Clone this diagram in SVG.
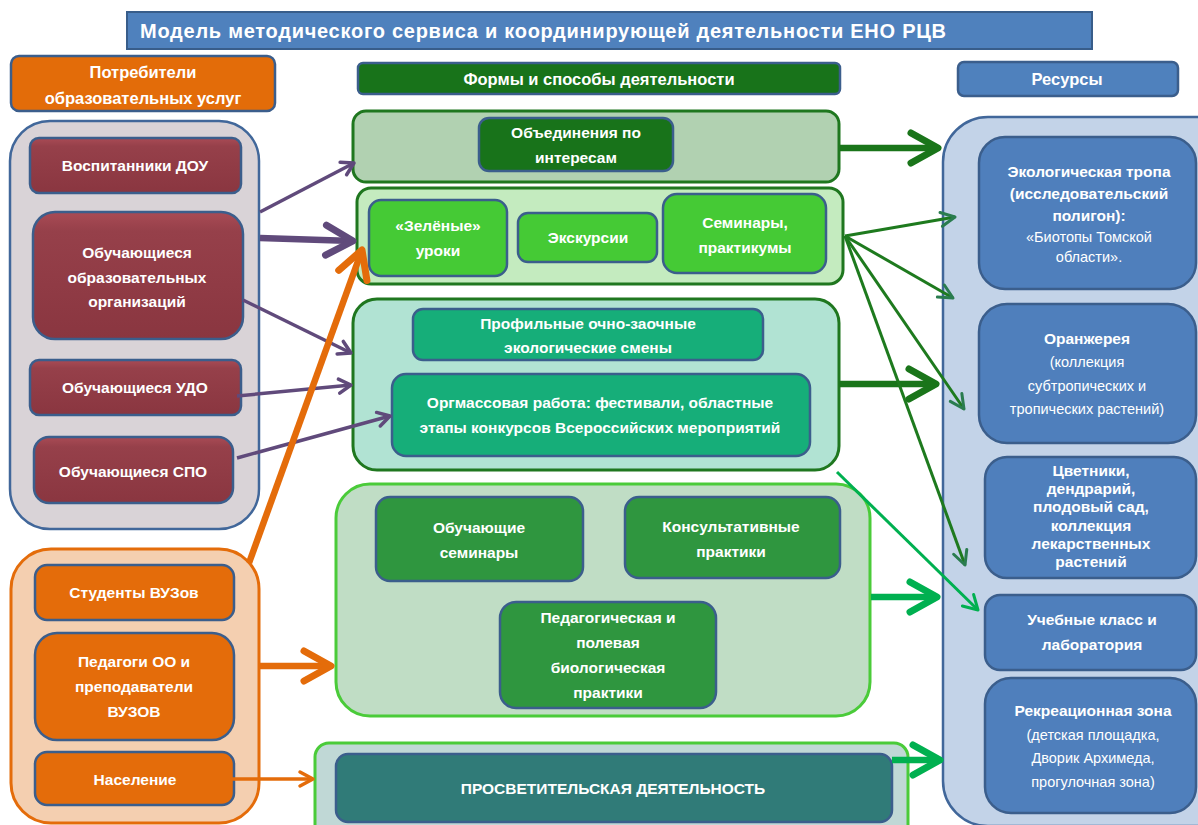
<svg xmlns="http://www.w3.org/2000/svg" width="1198" height="825" viewBox="0 0 1198 825">
<style>
text{font-family:"Liberation Sans",Arial,sans-serif;font-weight:bold;fill:#fff;text-anchor:middle;font-size:15.5px}
.r{font-weight:normal;font-size:14.5px}
.h{font-size:16.5px}
.in{stroke:#3B5E8C;stroke-width:2.5}
.maroon{fill:url(#gMaroon)}
.orng{fill:#E46C0A}
.dkg{fill:#18731A}
.lg{fill:#45CA35}
.teal{fill:#16AE79}
.mg{fill:#2F963F}
.blue{fill:#4F7FBC}
.grpd{stroke:#1F771F;stroke-width:3}
.grpl{stroke:#4ACB39;stroke-width:3}
.thin{stroke-width:3.5;fill:none}
.thick{stroke-width:6.5;fill:none}
</style>
<defs>
<linearGradient id="gMaroon" x1="0" y1="0" x2="0" y2="1">
<stop offset="0" stop-color="#A94B55"/>
<stop offset="0.15" stop-color="#96404A"/>
<stop offset="1" stop-color="#8A3640"/>
</linearGradient>
<marker id="mPurThin" viewBox="-16 -10 20 20" markerWidth="20" markerHeight="20" refX="0" refY="0" orient="auto" markerUnits="userSpaceOnUse"><path d="M-12,-7 L0,0 L-12,7" fill="none" stroke="#604A7B" stroke-width="3.5" stroke-linecap="round" stroke-linejoin="round"/></marker>
<marker id="mPurThick" viewBox="-32 -20 40 40" markerWidth="40" markerHeight="40" refX="0" refY="0" orient="auto" markerUnits="userSpaceOnUse"><path d="M-27,-15 L0,0 L-27,15" fill="none" stroke="#604A7B" stroke-width="7" stroke-linecap="round" stroke-linejoin="round"/></marker>
<marker id="mOrThick" viewBox="-32 -20 40 40" markerWidth="40" markerHeight="40" refX="0" refY="0" orient="auto" markerUnits="userSpaceOnUse"><path d="M-27,-15 L0,0 L-27,15" fill="none" stroke="#E46C0A" stroke-width="7" stroke-linecap="round" stroke-linejoin="round"/></marker>
<marker id="mOrThin" viewBox="-16 -10 20 20" markerWidth="20" markerHeight="20" refX="0" refY="0" orient="auto" markerUnits="userSpaceOnUse"><path d="M-13,-7 L0,0 L-13,7" fill="none" stroke="#E46C0A" stroke-width="3.5" stroke-linecap="round" stroke-linejoin="round"/></marker>
<marker id="mDgThick" viewBox="-32 -20 40 40" markerWidth="40" markerHeight="40" refX="0" refY="0" orient="auto" markerUnits="userSpaceOnUse"><path d="M-27,-15 L0,0 L-27,15" fill="none" stroke="#1A751A" stroke-width="7" stroke-linecap="round" stroke-linejoin="round"/></marker>
<marker id="mFan" viewBox="-18 -10 22 20" markerWidth="22" markerHeight="20" refX="0" refY="0" orient="auto" markerUnits="userSpaceOnUse"><path d="M-14,-7 L0,0 L-14,7" fill="none" stroke="#2A7C4F" stroke-width="3" stroke-linecap="round" stroke-linejoin="round"/></marker>
<marker id="mBgThin" viewBox="-18 -10 22 20" markerWidth="22" markerHeight="20" refX="0" refY="0" orient="auto" markerUnits="userSpaceOnUse"><path d="M-14,-8 L0,0 L-14,8" fill="none" stroke="#00B050" stroke-width="3" stroke-linecap="round" stroke-linejoin="round"/></marker>
<marker id="mBgThick" viewBox="-32 -20 40 40" markerWidth="40" markerHeight="40" refX="0" refY="0" orient="auto" markerUnits="userSpaceOnUse"><path d="M-27,-15 L0,0 L-27,15" fill="none" stroke="#00B050" stroke-width="7" stroke-linecap="round" stroke-linejoin="round"/></marker>
</defs>

<g id="title">
<rect x="127" y="12" width="965" height="37" fill="#4F81BD" stroke="#385D8A" stroke-width="2"/>
<text x="140" y="38" style="text-anchor:start;font-size:20px" textLength="806">Модель методического сервиса и координирующей деятельности ЕНО РЦВ</text>
</g>

<g id="hdr-consumers">
<rect x="11" y="56" width="264" height="55" rx="8" fill="#E36C09" class="in"/>
<text x="143" y="78" class="h">Потребители</text>
<text x="143" y="104" class="h">образовательных услуг</text>
</g>
<g id="hdr-forms">
<rect x="358" y="63" width="482" height="31" rx="5" class="dkg in"/>
<text x="599" y="85" class="h">Формы и способы деятельности</text>
</g>
<g id="hdr-resources">
<rect x="958" y="62" width="220" height="34" rx="6" fill="#4F81BD" class="in"/>
<text x="1067" y="85" class="h">Ресурсы</text>
</g>

<g id="grp-consumers">
<rect x="10" y="121" width="249" height="408" rx="40" fill="#D9D3D7" stroke="#41679A" stroke-width="2.5"/>
</g>
<g id="n-dou">
<rect x="30" y="138" width="211" height="55" rx="9" class="maroon in"/>
<text x="135" y="171">Воспитанники ДОУ</text>
</g>
<g id="n-oo">
<rect x="33" y="212" width="210" height="127" rx="22" class="maroon in"/>
<text x="137" y="258">Обучающиеся</text>
<text x="137" y="283">образовательных</text>
<text x="137" y="307">организаций</text>
</g>
<g id="n-udo">
<rect x="30" y="360" width="211" height="55" rx="9" class="maroon in"/>
<text x="135" y="393">Обучающиеся УДО</text>
</g>
<g id="n-spo">
<rect x="34" y="437" width="199" height="66" rx="15" class="maroon in"/>
<text x="133" y="477">Обучающиеся СПО</text>
</g>

<g id="grp-adults">
<rect x="11" y="549" width="248" height="274" rx="40" fill="#F4CFB0" stroke="#E46C0A" stroke-width="3"/>
</g>
<g id="n-students">
<rect x="35" y="565" width="199" height="55" rx="12" class="orng in"/>
<text x="134" y="598">Студенты ВУЗов</text>
</g>
<g id="n-teachers">
<rect x="35" y="633" width="199" height="107" rx="22" class="orng in"/>
<text x="134" y="667">Педагоги ОО и</text>
<text x="134" y="692">преподаватели</text>
<text x="134" y="717">ВУЗОВ</text>
</g>
<g id="n-population">
<rect x="35" y="752" width="199" height="53" rx="12" class="orng in"/>
<text x="135" y="785">Население</text>
</g>

<g id="box-interests">
<rect x="353" y="111" width="486" height="71" rx="13" fill="#B1D1B1" class="grpd"/>
<rect x="479" y="118" width="194" height="53" rx="10" class="dkg in"/>
<text x="576" y="138">Объединения по</text>
<text x="576" y="163">интересам</text>
</g>

<g id="box-lessons">
<rect x="357" y="188" width="486" height="96" rx="14" fill="#C4EBBF" class="grpd"/>
</g>
<g id="n-green">
<rect x="369" y="200" width="138" height="76" rx="12" class="lg in"/>
<text x="438" y="231">«Зелёные»</text>
<text x="438" y="256">уроки</text>
</g>
<g id="n-excursions">
<rect x="518" y="213" width="139" height="49" rx="10" class="lg in"/>
<text x="588" y="243">Экскурсии</text>
</g>
<g id="n-seminars">
<rect x="663" y="194" width="163" height="79" rx="14" class="lg in"/>
<text x="745" y="228">Семинары,</text>
<text x="745" y="253">практикумы</text>
</g>

<g id="box-events">
<rect x="353" y="299" width="486" height="171" rx="24" fill="#B1E3D3" class="grpd"/>
</g>
<g id="n-shifts">
<rect x="413" y="309" width="350" height="51" rx="10" class="teal in"/>
<text x="588" y="329">Профильные  очно-заочные</text>
<text x="588" y="353">экологические смены</text>
</g>
<g id="n-mass">
<rect x="392" y="374" width="418" height="82" rx="14" class="teal in"/>
<text x="600" y="408">Оргмассовая работа: фестивали, областные</text>
<text x="600" y="433">этапы конкурсов Всероссийских мероприятий</text>
</g>

<g id="box-training">
<rect x="336" y="484" width="534" height="232" rx="34" fill="#C0DDC5" class="grpl"/>
</g>
<g id="n-train-sem">
<rect x="376" y="497" width="207" height="84" rx="14" class="mg in"/>
<text x="479" y="533">Обучающие</text>
<text x="479" y="558">семинары</text>
</g>
<g id="n-consult">
<rect x="625" y="497" width="215" height="81" rx="14" class="mg in"/>
<text x="731" y="532">Консультативные</text>
<text x="731" y="557">практики</text>
</g>
<g id="n-practice">
<rect x="500" y="602" width="216" height="106" rx="16" class="mg in"/>
<text x="608" y="623">Педагогическая  и</text>
<text x="608" y="648">полевая</text>
<text x="608" y="673">биологическая</text>
<text x="608" y="698">практики</text>
</g>

<g id="box-enlight">
<rect x="315" y="743" width="593" height="100" rx="14" fill="#C0D8D6" class="grpl"/>
<rect x="336" y="754" width="556" height="68" rx="12" fill="#307B78" class="in"/>
<text x="613" y="794">ПРОСВЕТИТЕЛЬСКАЯ ДЕЯТЕЛЬНОСТЬ</text>
</g>

<g id="grp-resources">
<rect x="943" y="117" width="300" height="709" rx="45" fill="#C3D3E8" stroke="#41679A" stroke-width="2.5"/>
</g>
<g id="r-trail">
<rect x="979" y="137" width="217" height="152" rx="26" class="blue in"/>
<text x="1089" y="177">Экологическая тропа</text>
<text x="1089" y="199">(исследовательский</text>
<text x="1089" y="221">полигон):</text>
<text x="1089" y="242" class="r">«Биотопы Томской</text>
<text x="1089" y="262" class="r">области».</text>
</g>
<g id="r-greenhouse">
<rect x="979" y="304" width="217" height="139" rx="28" class="blue in"/>
<text x="1087" y="344">Оранжерея</text>
<text x="1087" y="367" class="r">(коллекция</text>
<text x="1087" y="391" class="r">субтропических и</text>
<text x="1087" y="414" class="r">тропических растений)</text>
</g>
<g id="r-gardens">
<rect x="985" y="457" width="211" height="121" rx="22" class="blue in"/>
<text x="1091" y="476">Цветники,</text>
<text x="1091" y="494">дендрарий,</text>
<text x="1091" y="512">плодовый сад,</text>
<text x="1091" y="531">коллекция</text>
<text x="1091" y="549">лекарственных</text>
<text x="1091" y="567">растений</text>
</g>
<g id="r-lab">
<rect x="985" y="595" width="211" height="75" rx="15" class="blue in"/>
<text x="1092" y="625">Учебные класс и</text>
<text x="1092" y="650">лаборатория</text>
</g>
<g id="r-recreation">
<rect x="985" y="678" width="211" height="135" rx="26" class="blue in"/>
<text x="1093" y="716">Рекреационная зона</text>
<text x="1093" y="740" class="r">(детская площадка,</text>
<text x="1093" y="763" class="r">Дворик Архимеда,</text>
<text x="1093" y="787" class="r">прогулочная зона)</text>
</g>

<g id="connectors">
<path d="M260,212 L354,163" stroke="#604A7B" class="thin" marker-end="url(#mPurThin)"/>
<path d="M260,238 L353,241" stroke="#604A7B" class="thick" marker-end="url(#mPurThick)"/>
<path d="M243,300 L351,353" stroke="#604A7B" class="thin" marker-end="url(#mPurThin)"/>
<path d="M237,396 L351,385" stroke="#604A7B" class="thin" marker-end="url(#mPurThin)"/>
<path d="M237,458 L390,416" stroke="#604A7B" class="thin" marker-end="url(#mPurThin)"/>
<path d="M249,563 L362,250" stroke="#E46C0A" class="thick" marker-end="url(#mOrThick)"/>
<path d="M259,666 L331,666" stroke="#E46C0A" class="thick" marker-end="url(#mOrThick)"/>
<path d="M232,779 L313,779" stroke="#E46C0A" class="thin" marker-end="url(#mOrThin)"/>
<path d="M840,148 L938,148" stroke="#1A751A" class="thick" marker-end="url(#mDgThick)"/>
<path d="M839,384 L936,384" stroke="#1A751A" class="thick" marker-end="url(#mDgThick)"/>
<path d="M845,236 L955,217" stroke="#1E7A1E" stroke-width="3" fill="none" marker-end="url(#mFan)"/>
<path d="M845,236 L953,298" stroke="#1E7A1E" stroke-width="3" fill="none" marker-end="url(#mFan)"/>
<path d="M845,236 L964,409" stroke="#1E7A1E" stroke-width="3" fill="none" marker-end="url(#mFan)"/>
<path d="M845,236 L965,565" stroke="#1E7A1E" stroke-width="3" fill="none" marker-end="url(#mFan)"/>
<path d="M837,472 L978,610" stroke="#00B050" stroke-width="3" fill="none" marker-end="url(#mBgThin)"/>
<path d="M871,597 L937,597" stroke="#00B050" class="thick" marker-end="url(#mBgThick)"/>
<path d="M892,760 L940,760" stroke="#00B050" class="thick" marker-end="url(#mBgThick)"/>
</g>
</svg>
